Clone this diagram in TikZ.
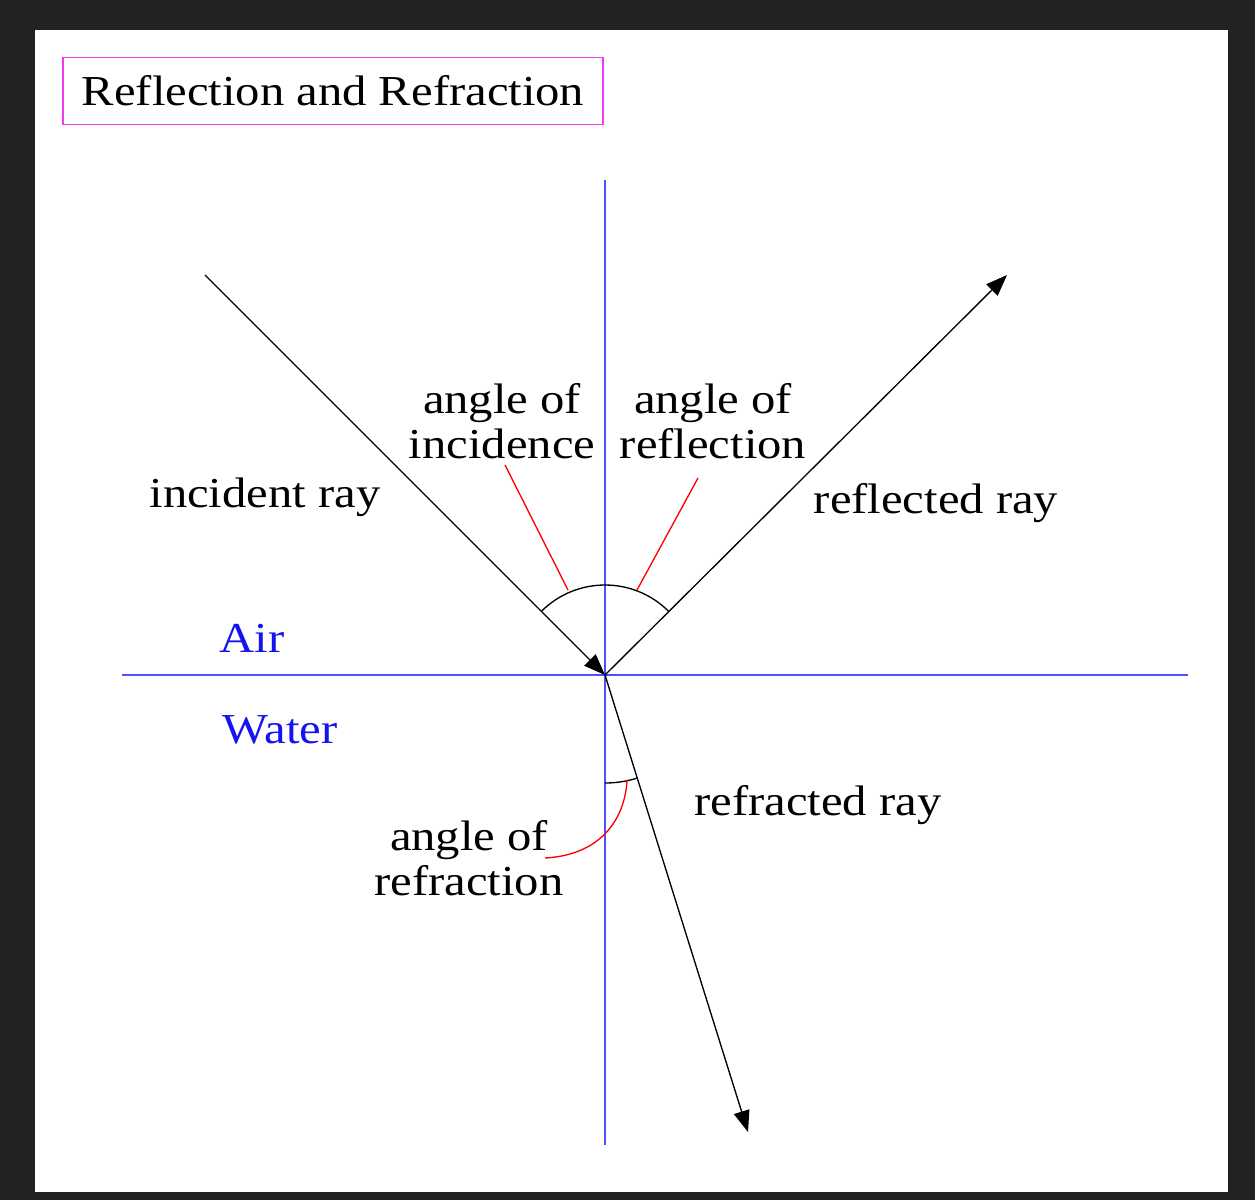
\documentclass[tikz,border=0pt]{standalone}
\usepackage{fontspec}
\setmainfont{Liberation Serif}[FakeStretch=1.14]
\usetikzlibrary{arrows.meta}
\definecolor{frame}{RGB}{34,34,34}
\definecolor{blueline}{RGB}{80,80,255}
\definecolor{textblue}{RGB}{20,20,240}
\definecolor{boxpink}{RGB}{240,60,240}
\tikzset{
  lbl/.style={inner sep=0.75pt, align=center, font=\fontsize{32}{34}\selectfont},
  ray/.style={line width=1pt, -{Triangle[length=16pt,width=12pt]}},
  pointer/.style={red, line width=1pt},
}
\begin{document}
\begin{tikzpicture}[x=0.75pt,y=0.75pt,yscale=-1,xscale=1]
        \fill[frame] (0,0) rectangle (1255,1200);
        \fill[white] (35,30) rectangle (1228,1192);

        % axes
        \coordinate (O) at (605,675);
        \coordinate (top) at (605,180);
        \coordinate (bottom) at (605,1145);
        \coordinate (left) at (122,675);
        \coordinate (right) at (1188,675);
        \draw[blueline, line width=1.5pt] (top) -- (bottom);
        \draw[blueline, line width=1.5pt] (left) -- (right);

        % rays
        \coordinate (src) at (205,275);
        \coordinate (refl) at (1007,275);
        \coordinate (refr) at (748,1132);
        \draw[ray] (src) -- (O);
        \draw[ray] (O) -- (refl);
        \draw[ray] (O) -- (refr);

        % angle arcs
        \draw[line width=1pt] (O) ++(135:-90) arc (-45:-135:90);
        \draw[line width=1pt] (O) ++(0,108) arc (90:72.6:108);

        % title
        \node[lbl, draw=boxpink, line width=1.2pt, minimum width=540*0.75pt, minimum height=67*0.75pt] (title) at (333,91) {Reflection and Refraction};

        % labels
        \node[lbl] (incang) at (502,421) {angle of\\incidence};
        \node[lbl] (reflang) at (713,421) {angle of\\reflection};
        \node[lbl] (incray) at (265,497) {incident ray};
        \node[lbl] (reflray) at (936,503) {reflected ray};
        \node[lbl, text=textblue] (air) at (252,638) {Air};
        \node[lbl, text=textblue] (water) at (280,730) {Water};
        \node[lbl] (refrray) at (818,805) {refracted ray};
        \node[lbl] (refrang) at (469,858) {angle of\\refraction};

        % pointers
        \coordinate (p1) at (505,465);
        \coordinate (p1e) at (568,590);
        \coordinate (p2) at (698,478);
        \coordinate (p2e) at (637,590);
        \coordinate (p3) at (545,858);
        \coordinate (p3e) at (627,780);
        \draw[pointer] (p1) -- (p1e);
        \draw[pointer] (p2) -- (p2e);
        \draw[pointer] (p3) .. controls (600,855) and (625,820) .. (p3e);
\end{tikzpicture}
\end{document}
